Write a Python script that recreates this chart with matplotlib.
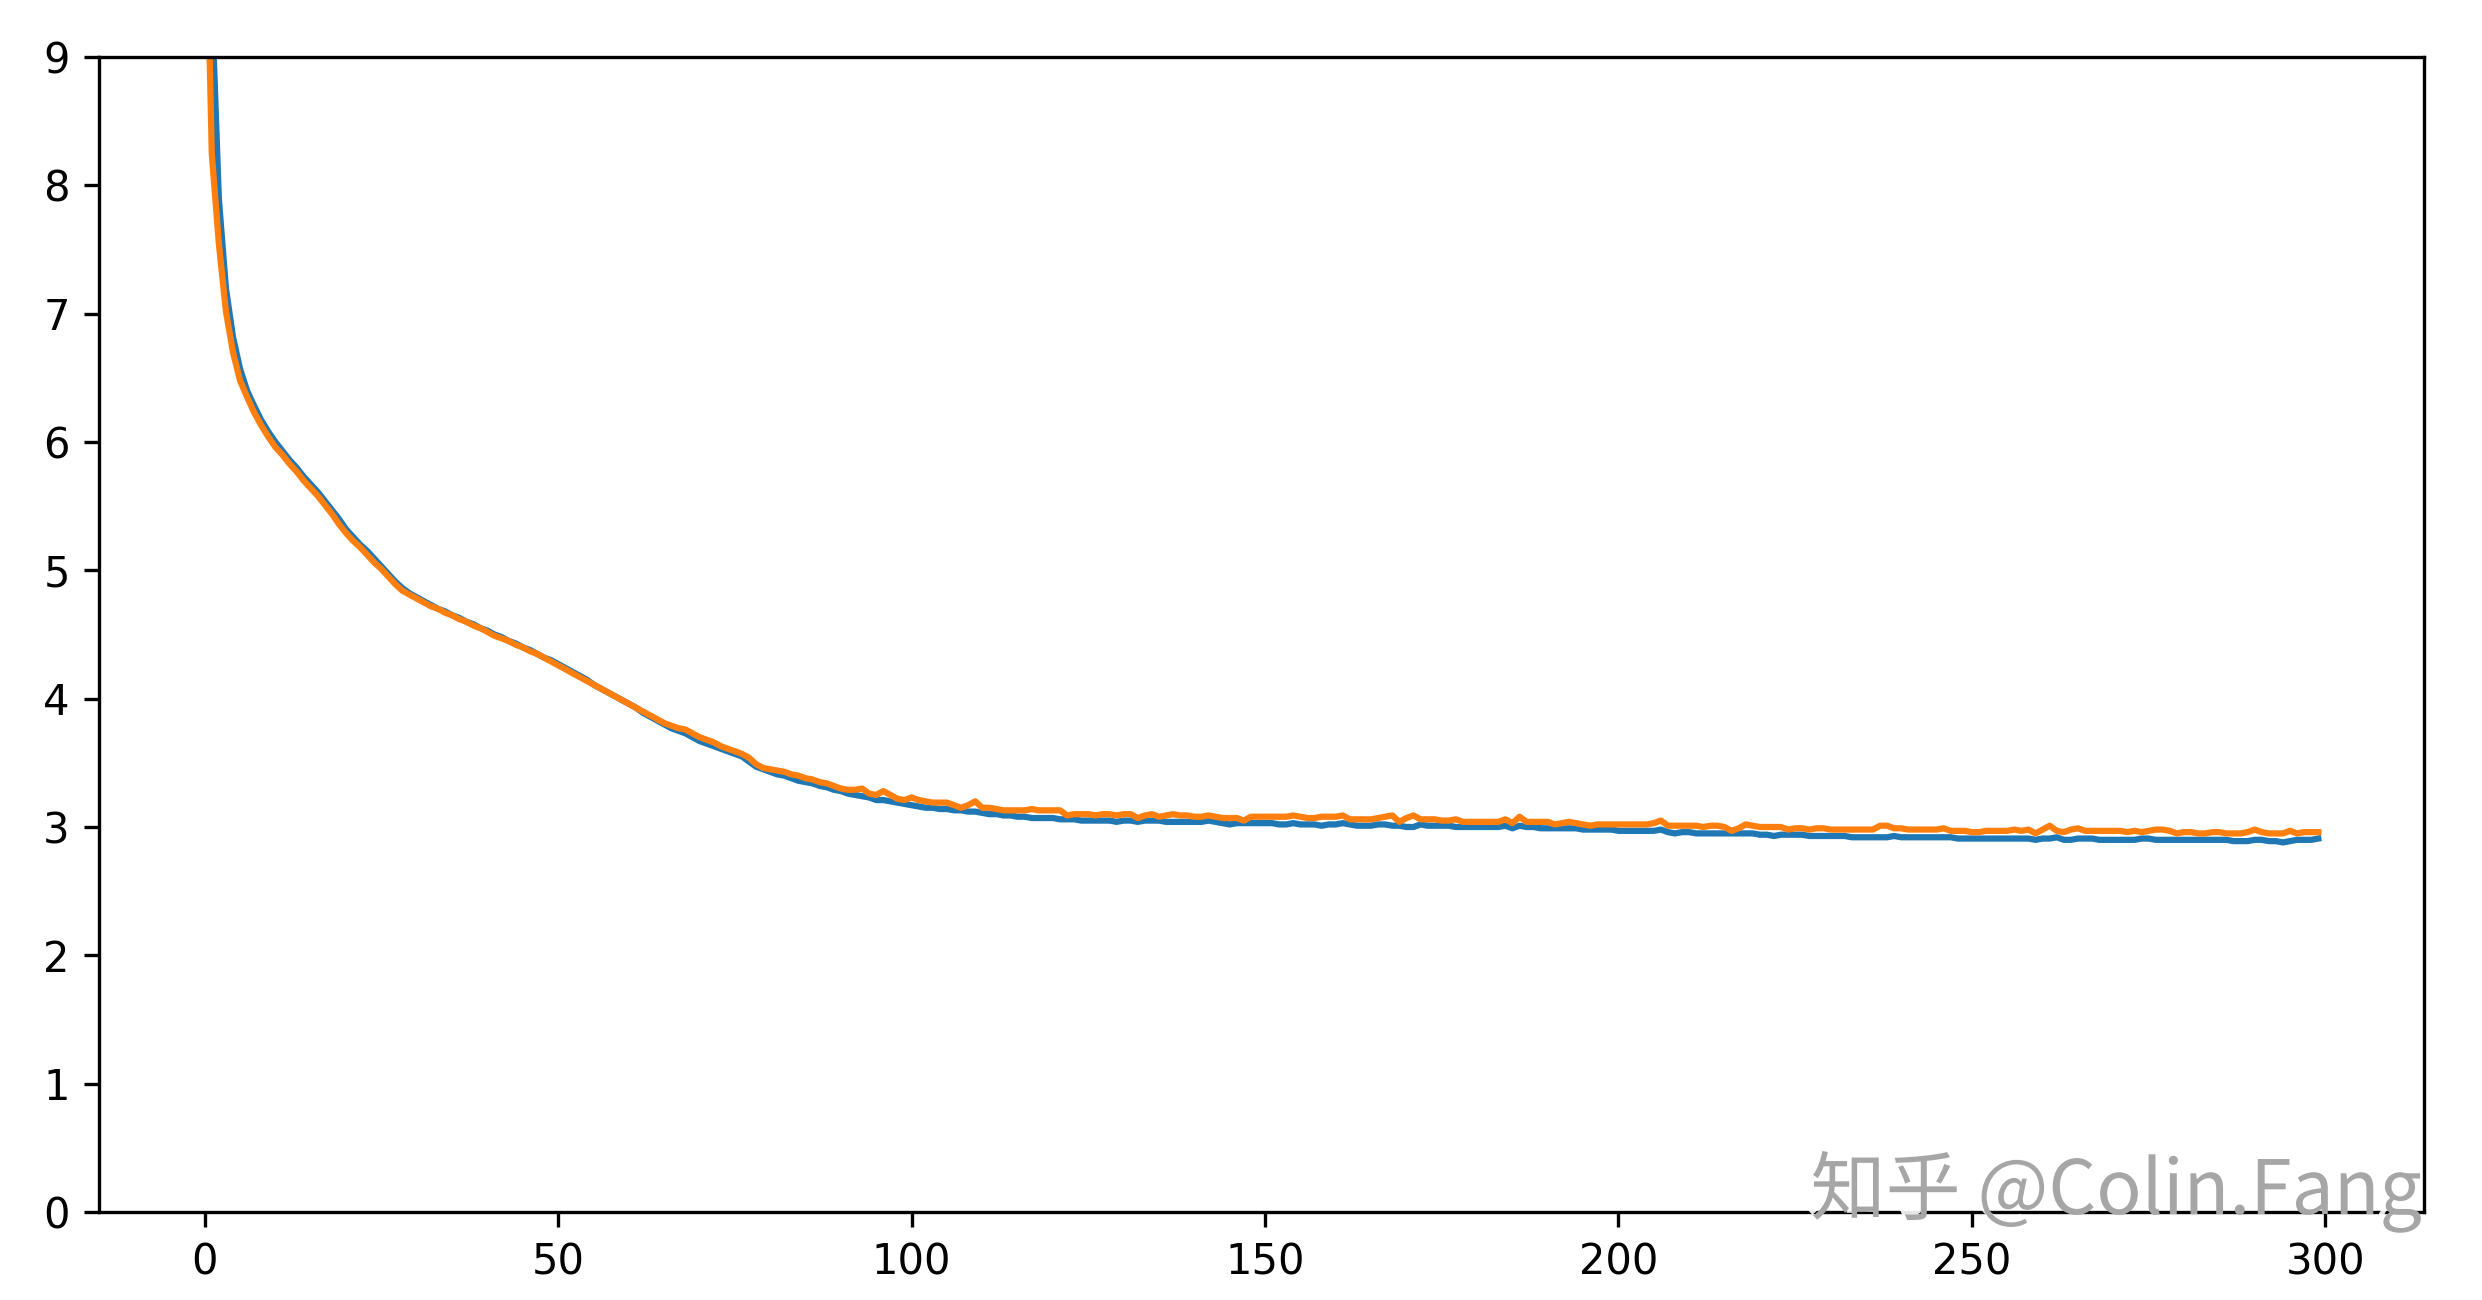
import numpy as np
import matplotlib
matplotlib.use("Agg")
import matplotlib.pyplot as plt
import matplotlib.patheffects as pe

# loss per epoch
epochs = np.arange(300)

blue_loss = [
    11.50, 9.45, 7.90, 7.20, 6.82, 6.57, 6.40, 6.28, 6.17, 6.08,
    6.00, 5.93, 5.86, 5.80, 5.73, 5.67, 5.61, 5.54, 5.47, 5.40,
    5.32, 5.26, 5.20, 5.15, 5.09, 5.03, 4.97, 4.91, 4.86, 4.82,
    4.79, 4.76, 4.73, 4.70, 4.68, 4.65, 4.63, 4.60, 4.58, 4.55,
    4.53, 4.50, 4.48, 4.45, 4.43, 4.40, 4.38, 4.35, 4.32, 4.30,
    4.27, 4.24, 4.21, 4.18, 4.15, 4.11, 4.08, 4.05, 4.02, 3.99,
    3.96, 3.93, 3.89, 3.86, 3.83, 3.80, 3.77, 3.75, 3.73, 3.70,
    3.67, 3.65, 3.63, 3.61, 3.59, 3.57, 3.55, 3.51, 3.47, 3.45,
    3.43, 3.41, 3.40, 3.38, 3.36, 3.35, 3.34, 3.32, 3.31, 3.29,
    3.28, 3.26, 3.25, 3.24, 3.23, 3.21, 3.21, 3.20, 3.19, 3.18,
    3.17, 3.16, 3.15, 3.15, 3.14, 3.14, 3.13, 3.13, 3.12, 3.12,
    3.11, 3.10, 3.10, 3.09, 3.09, 3.08, 3.08, 3.07, 3.07, 3.07,
    3.07, 3.06, 3.06, 3.06, 3.05, 3.05, 3.05, 3.05, 3.05, 3.04,
    3.05, 3.05, 3.04, 3.05, 3.05, 3.05, 3.04, 3.04, 3.04, 3.04,
    3.04, 3.04, 3.05, 3.04, 3.03, 3.02, 3.03, 3.03, 3.03, 3.03,
    3.03, 3.03, 3.02, 3.02, 3.03, 3.02, 3.02, 3.02, 3.01, 3.02,
    3.02, 3.03, 3.02, 3.01, 3.01, 3.01, 3.02, 3.02, 3.01, 3.01,
    3.00, 3.00, 3.02, 3.01, 3.01, 3.01, 3.01, 3.00, 3.00, 3.00,
    3.00, 3.00, 3.00, 3.00, 3.01, 2.99, 3.01, 3.00, 3.00, 2.99,
    2.99, 2.99, 2.99, 2.99, 2.99, 2.98, 2.98, 2.98, 2.98, 2.98,
    2.97, 2.97, 2.97, 2.97, 2.97, 2.97, 2.98, 2.96, 2.95, 2.96,
    2.96, 2.95, 2.95, 2.95, 2.95, 2.95, 2.95, 2.95, 2.95, 2.95,
    2.94, 2.94, 2.93, 2.94, 2.94, 2.94, 2.94, 2.93, 2.93, 2.93,
    2.93, 2.93, 2.93, 2.92, 2.92, 2.92, 2.92, 2.92, 2.92, 2.93,
    2.92, 2.92, 2.92, 2.92, 2.92, 2.92, 2.92, 2.92, 2.91, 2.91,
    2.91, 2.91, 2.91, 2.91, 2.91, 2.91, 2.91, 2.91, 2.91, 2.90,
    2.91, 2.91, 2.92, 2.90, 2.90, 2.91, 2.91, 2.91, 2.90, 2.90,
    2.90, 2.90, 2.90, 2.90, 2.91, 2.91, 2.90, 2.90, 2.90, 2.90,
    2.90, 2.90, 2.90, 2.90, 2.90, 2.90, 2.90, 2.89, 2.89, 2.89,
    2.90, 2.90, 2.89, 2.89, 2.88, 2.89, 2.90, 2.90, 2.90, 2.91,
]

orange_loss = [
    10.80, 8.25, 7.55, 7.02, 6.70, 6.48, 6.35, 6.23, 6.13, 6.04,
    5.96, 5.90, 5.83, 5.77, 5.70, 5.64, 5.58, 5.51, 5.44, 5.36,
    5.29, 5.23, 5.18, 5.12, 5.06, 5.01, 4.95, 4.89, 4.84, 4.81,
    4.78, 4.75, 4.72, 4.70, 4.67, 4.65, 4.62, 4.60, 4.57, 4.55,
    4.52, 4.49, 4.47, 4.45, 4.42, 4.40, 4.37, 4.35, 4.32, 4.29,
    4.26, 4.23, 4.20, 4.17, 4.14, 4.11, 4.08, 4.05, 4.02, 3.99,
    3.96, 3.93, 3.90, 3.87, 3.84, 3.81, 3.79, 3.77, 3.76, 3.73,
    3.70, 3.68, 3.66, 3.63, 3.61, 3.59, 3.57, 3.54, 3.49, 3.46,
    3.45, 3.44, 3.43, 3.41, 3.40, 3.38, 3.37, 3.35, 3.34, 3.32,
    3.30, 3.29, 3.29, 3.30, 3.26, 3.25, 3.28, 3.25, 3.22, 3.21,
    3.23, 3.21, 3.20, 3.19, 3.19, 3.19, 3.17, 3.15, 3.17, 3.20,
    3.15, 3.15, 3.14, 3.13, 3.13, 3.13, 3.13, 3.14, 3.13, 3.13,
    3.13, 3.13, 3.09, 3.10, 3.10, 3.10, 3.09, 3.10, 3.10, 3.09,
    3.10, 3.10, 3.07, 3.09, 3.10, 3.08, 3.09, 3.10, 3.09, 3.09,
    3.08, 3.08, 3.09, 3.08, 3.07, 3.07, 3.07, 3.05, 3.08, 3.08,
    3.08, 3.08, 3.08, 3.08, 3.09, 3.08, 3.07, 3.07, 3.08, 3.08,
    3.08, 3.09, 3.06, 3.06, 3.06, 3.06, 3.07, 3.08, 3.09, 3.04,
    3.07, 3.09, 3.06, 3.06, 3.06, 3.05, 3.05, 3.06, 3.04, 3.04,
    3.04, 3.04, 3.04, 3.04, 3.06, 3.03, 3.08, 3.04, 3.04, 3.04,
    3.04, 3.02, 3.03, 3.04, 3.03, 3.02, 3.01, 3.02, 3.02, 3.02,
    3.02, 3.02, 3.02, 3.02, 3.02, 3.03, 3.05, 3.01, 3.01, 3.01,
    3.01, 3.01, 3.00, 3.01, 3.01, 3.00, 2.97, 2.99, 3.02, 3.01,
    3.00, 3.00, 3.00, 3.00, 2.98, 2.99, 2.99, 2.98, 2.99, 2.99,
    2.98, 2.98, 2.98, 2.98, 2.98, 2.98, 2.98, 3.01, 3.01, 2.99,
    2.99, 2.98, 2.98, 2.98, 2.98, 2.98, 2.99, 2.97, 2.97, 2.97,
    2.96, 2.96, 2.97, 2.97, 2.97, 2.97, 2.98, 2.97, 2.98, 2.95,
    2.98, 3.01, 2.97, 2.96, 2.98, 2.99, 2.97, 2.97, 2.97, 2.97,
    2.97, 2.97, 2.96, 2.97, 2.96, 2.97, 2.98, 2.98, 2.97, 2.95,
    2.96, 2.96, 2.95, 2.95, 2.96, 2.96, 2.95, 2.95, 2.95, 2.96,
    2.98, 2.96, 2.95, 2.95, 2.95, 2.97, 2.95, 2.96, 2.96, 2.96,
]

watermark = "知乎 @Colin.Fang"

W, H, DPI = 2482, 1300, 300
fig = plt.figure(figsize=(W / DPI, H / DPI), dpi=DPI)
ax = fig.add_axes([99 / W, (H - 1212) / H, 2325 / W, 1155 / H])

ax.plot(epochs, blue_loss)
ax.plot(epochs, orange_loss)
ax.set_ylim(0, 9)

# zhihu watermark, bottom right
fig.text(2422 / W, (H - 1214) / H, watermark, ha="right", va="baseline",
         fontsize=18, fontweight="medium", color="#a6a6a6",
         family=["Noto Sans CJK SC", "DejaVu Sans"],
         path_effects=[pe.withSimplePatchShadow(offset=(-1.2, 1.2),
                                                shadow_rgbFace="white",
                                                alpha=0.9)])

fig.savefig("out.png", dpi=DPI)
